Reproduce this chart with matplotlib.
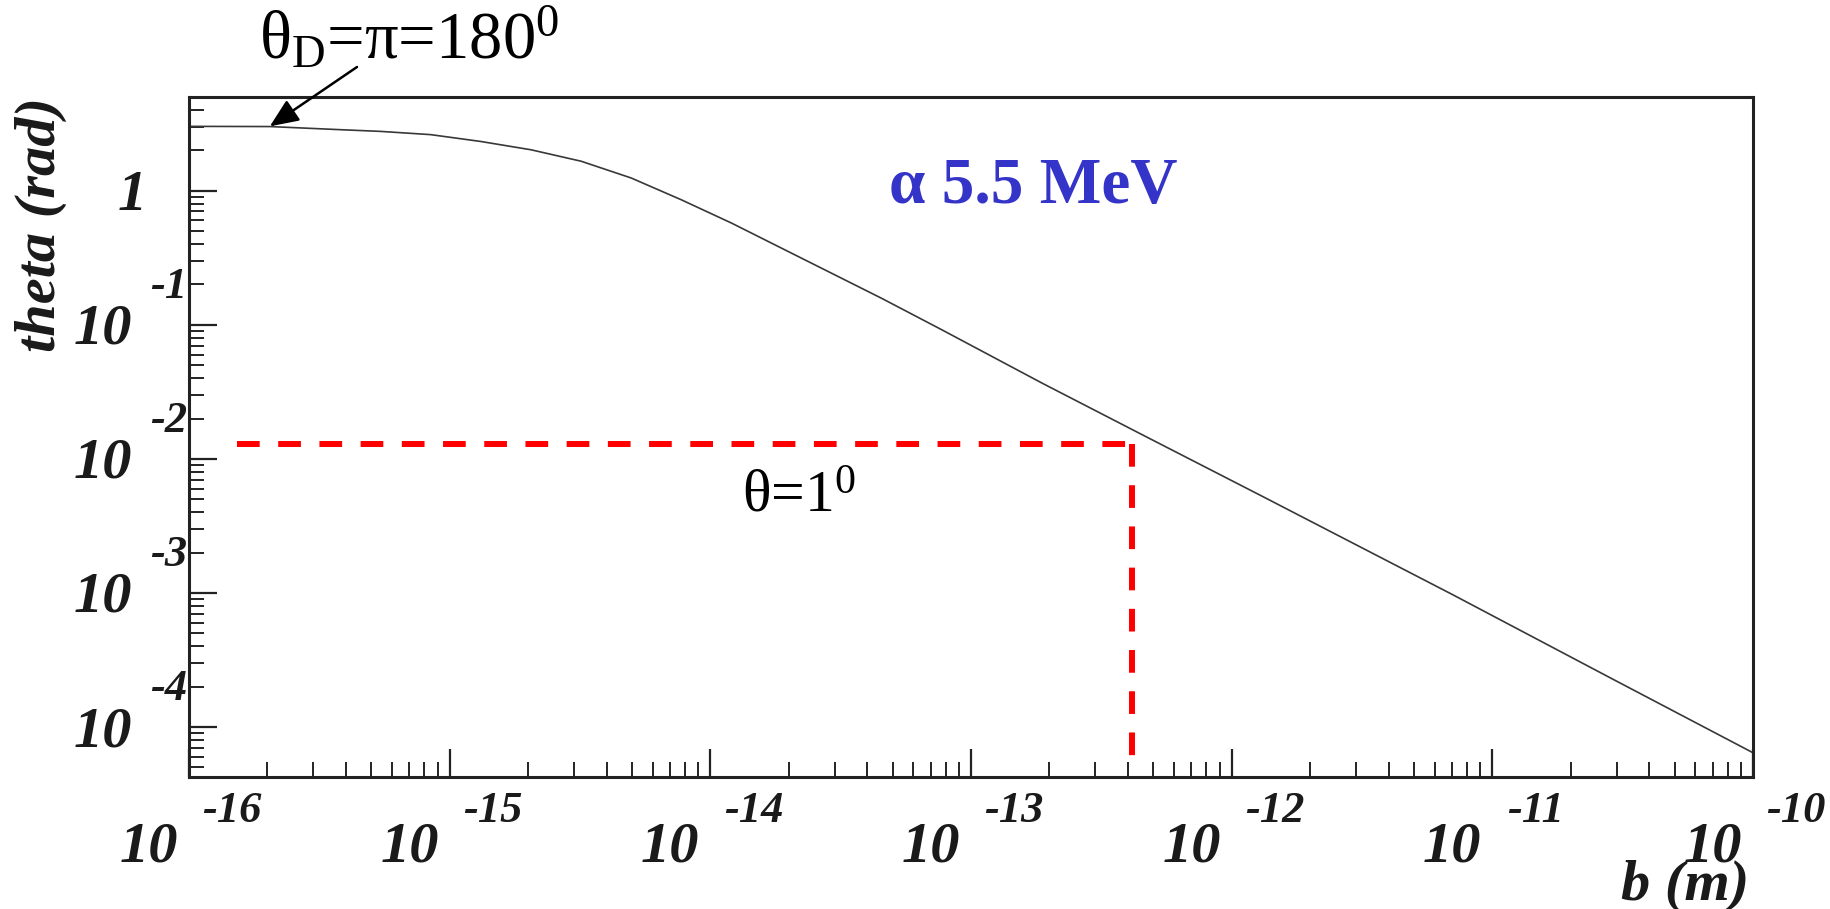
import numpy as np
import matplotlib
matplotlib.use("Agg")
import matplotlib.pyplot as plt

plt.rcParams['mathtext.fontset'] = 'custom'
plt.rcParams['mathtext.rm'] = 'Liberation Serif'
plt.rcParams['mathtext.it'] = 'Liberation Serif:italic'
plt.rcParams['mathtext.bf'] = 'Liberation Serif:bold'

# ---- data ----
b_exp = [-16.0, -15.69, -15.415, -15.265, -15.073, -14.881, -14.688, -14.496,
         -14.304, -14.112, -13.919, -13.727, -13.344, -13.112, -12.727, -12.342,
         -11.881, -11.150, -10.535, -10.0]
theta_rad = [3.02, 3.01, 2.85, 2.77, 2.62, 2.33, 2.02, 1.66,
             1.245, 0.857, 0.574, 0.373, 0.158, 0.0918, 0.0367, 0.0151,
             0.00524, 0.000966, 0.000226, 0.0000643]
b_m = [10.0 ** e for e in b_exp]

x_decades = [-16, -15, -14, -13, -12, -11, -10]
y_decades = [0, -1, -2, -3, -4]

# 1 degree guide (as drawn)
guide_theta = 0.01294
guide_b = 4.16e-13
guide_b_start = 1.53e-16
guide_theta_bottom = 5.4e-5

xlim = (1e-16, 1e-10)
ylim = (4.24e-5, 5.0)

PX = 0.72  # points per pixel at dpi 100

fig = plt.figure(figsize=(18.30, 9.09), dpi=100)
fig.patch.set_facecolor('white')
ax = fig.add_axes([189/1830, 1-777/909, (1753-189)/1830, (777-97)/909])
ax.set_xscale('log')
ax.set_yscale('log')
ax.set_xlim(*xlim)
ax.set_ylim(*ylim)

ax.plot(b_m, theta_rad, color='#383838', lw=1.2, solid_joinstyle='round')

red_dash = (0, (3.8, 3.1))
ax.plot([guide_b_start, guide_b], [guide_theta, guide_theta], color='#ff0000',
        lw=4.3, linestyle=red_dash, dash_capstyle='butt')
ax.plot([guide_b, guide_b], [guide_theta, guide_theta_bottom], color='#ff0000',
        lw=4.3, linestyle=red_dash, dash_capstyle='butt')

for s in ax.spines.values():
    s.set_linewidth(2.2)
    s.set_color('#222222')

ax.tick_params(which='both', direction='in', top=False, right=False,
               labelbottom=False, labelleft=False, color='#222222')
ax.tick_params(which='major', length=28*PX, width=1.6)
ax.tick_params(which='minor', length=15*PX, width=1.4)
ax.xaxis.set_major_locator(matplotlib.ticker.LogLocator(base=10, numticks=20))
ax.xaxis.set_minor_locator(matplotlib.ticker.LogLocator(base=10, subs=np.arange(2, 10), numticks=20))
ax.yaxis.set_major_locator(matplotlib.ticker.LogLocator(base=10, numticks=20))
ax.yaxis.set_minor_locator(matplotlib.ticker.LogLocator(base=10, subs=np.arange(2, 10), numticks=20))

lab_font = dict(family='Liberation Serif', weight='bold', style='italic', color='#1a1a1a')
BASE = 42
EXPF = 32

# x tick labels
xt = ax.get_xaxis_transform()
for e in x_decades:
    v = 10.0 ** e
    ax.annotate('10', xy=(v, 0), xycoords=xt, xytext=(-40*PX, -84*PX),
                textcoords='offset points', ha='center', va='baseline',
                fontsize=BASE, annotation_clip=False, **lab_font)
    ax.annotate(str(e), xy=(v, 0), xycoords=xt, xytext=(43*PX, -45*PX),
                textcoords='offset points', ha='center', va='baseline',
                fontsize=EXPF, annotation_clip=False, **lab_font)

# y tick labels
yt = ax.get_yaxis_transform()
for e in y_decades:
    v = 10.0 ** e
    if e == 0:
        ax.annotate('1', xy=(0, v), xycoords=yt, xytext=(-42*PX, -19*PX),
                    textcoords='offset points', ha='right', va='baseline',
                    fontsize=BASE, annotation_clip=False, **lab_font)
    else:
        ax.annotate('10', xy=(0, v), xycoords=yt, xytext=(-57*PX, -19*PX),
                    textcoords='offset points', ha='right', va='baseline',
                    fontsize=BASE, annotation_clip=False, **lab_font)
        ax.annotate(str(e), xy=(0, v), xycoords=yt, xytext=(-20*PX, 27*PX),
                    textcoords='offset points', ha='center', va='baseline',
                    fontsize=EXPF, annotation_clip=False, **lab_font)

# axis titles
fig.text(41/1830, 1-225/909, 'theta (rad)', rotation=90, ha='center', va='center',
         fontsize=BASE, **lab_font)
fig.text(1749/1830, 1-900/909, 'b (m)', ha='right', va='baseline',
         fontsize=BASE, **lab_font)

# annotations
fig.text(259/1830, 1-59/909, r'θ$_{\rm D}$=π=180$^{0}$', ha='left', va='baseline',
         fontsize=48, family='Liberation Serif', color='black')
ax.annotate('', xy=(10**-15.69, 3.02), xycoords='data',
            xytext=(357/1830, 1-67/909), textcoords='figure fraction',
            arrowprops=dict(arrowstyle='-|>,head_length=0.7,head_width=0.3',
                            color='black', lw=1.8, mutation_scale=25,
                            shrinkA=0, shrinkB=0),
            annotation_clip=False)
fig.text(889/1830, 1-203/909, 'α 5.5 MeV', ha='left', va='baseline',
         fontsize=47, family='Liberation Serif', weight='bold', color='#3434c8')
fig.text(742/1830, 1-512/909, r'θ=1$^{0}$', ha='left', va='baseline',
         fontsize=43, family='Liberation Serif', color='black')

fig.savefig('out.png', dpi=100, facecolor='white')
